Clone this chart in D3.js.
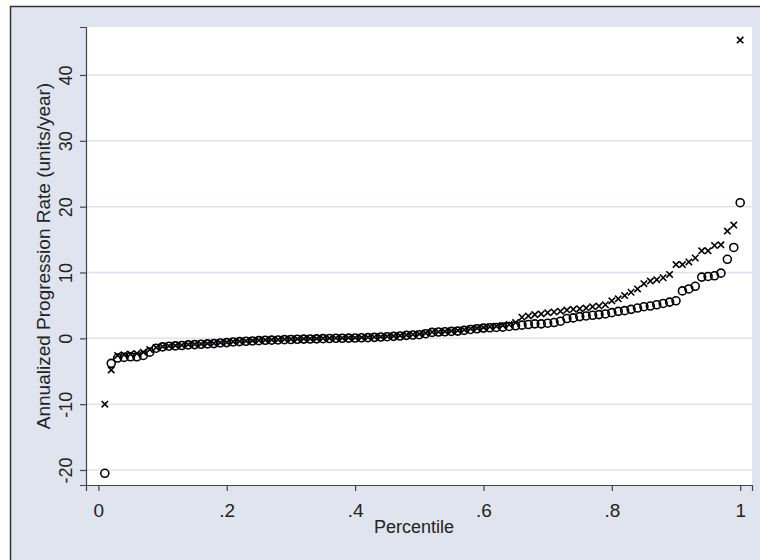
<!DOCTYPE html>
<html>
<head>
<meta charset="utf-8">
<script src="https://cdn.jsdelivr.net/npm/d3@7"></script>
<style>
    body { margin: 0; background: #ffffff; }
    text { font-family: "Liberation Sans", Arial, sans-serif; fill: #222222; }
</style>
</head>
<body>
<svg id="chart" width="760" height="560"></svg>
<script>
/**
 * Quantile plot: annualized progression rate by percentile, two series
 */

// percentiles 0.01 .. 1.00
let percentiles = d3.range(1, 101).map(k => k / 100);

// circle series (o)
let circleValues = [
    -20.5, -3.8, -3.0, -2.9, -2.8, -2.8, -2.6, -2.1, -1.5, -1.3,
    -1.2, -1.15, -1.1, -1.0, -0.95, -0.9, -0.85, -0.8, -0.7, -0.65,
    -0.55, -0.5, -0.45, -0.4, -0.35, -0.3, -0.28, -0.25, -0.2, -0.18,
    -0.15, -0.12, -0.1, -0.08, -0.05, -0.03, 0.0, 0.0, 0.03, 0.05,
    0.08, 0.1, 0.15, 0.2, 0.25, 0.3, 0.35, 0.45, 0.5, 0.55,
    0.7, 0.9, 0.95, 1.0, 1.05, 1.1, 1.2, 1.35, 1.45, 1.55,
    1.6, 1.65, 1.7, 1.8, 1.9, 2.0, 2.1, 2.2, 2.2, 2.3,
    2.4, 2.6, 3.0, 3.1, 3.3, 3.4, 3.5, 3.6, 3.7, 3.9,
    4.1, 4.2, 4.4, 4.6, 4.8, 4.9, 5.1, 5.3, 5.5, 5.7,
    7.2, 7.5, 7.9, 9.3, 9.4, 9.5, 9.9, 12.0, 13.8, 20.6
];

// cross series (x)
let crossValues = [
    -10.0, -4.8, -2.6, -2.5, -2.4, -2.3, -2.1, -1.7, -1.4, -1.25,
    -1.15, -1.1, -1.05, -0.95, -0.9, -0.85, -0.8, -0.75, -0.65, -0.6,
    -0.5, -0.45, -0.4, -0.35, -0.3, -0.25, -0.22, -0.2, -0.15, -0.12,
    -0.1, -0.08, -0.05, -0.03, 0.0, 0.02, 0.05, 0.06, 0.08, 0.1,
    0.13, 0.16, 0.2, 0.25, 0.3, 0.35, 0.42, 0.5, 0.58, 0.65,
    0.8, 0.95, 1.0, 1.05, 1.12, 1.2, 1.3, 1.45, 1.55, 1.65,
    1.75, 1.85, 1.95, 2.1, 2.4, 3.2, 3.4, 3.6, 3.7, 3.9,
    4.0, 4.1, 4.3, 4.4, 4.5, 4.6, 4.8, 4.9, 5.1, 5.7,
    6.0, 6.5, 7.0, 7.5, 8.3, 8.7, 8.9, 9.2, 9.7, 11.2,
    11.2, 11.6, 12.2, 13.3, 13.3, 14.1, 14.2, 16.3, 17.2, 45.3
];

let xTicks = [0, 0.2, 0.4, 0.6, 0.8, 1];
let xTickLabels = ["0", ".2", ".4", ".6", ".8", "1"];
let yTicks = [-20, -10, 0, 10, 20, 30, 40];
let yTickLabels = ["-20", "-10", "0", "10", "20", "30", "40"];

/**
 * Plot region inside the svg
 * @type {{top: number, left: number, bottom: number, right: number}}
 */
let plot = {
    top: 27,
    left: 86,
    bottom: 485,
    right: 752
};

let svg = d3.select("#chart");

// graph region with its frame
svg.append("rect")
    .attr("x", 0)
    .attr("y", 0)
    .attr("width", 760)
    .attr("height", 560)
    .attr("fill", "#ffffff");

svg.append("rect")
    .attr("x", 10.5)
    .attr("y", 6.5)
    .attr("width", 780)
    .attr("height", 580)
    .attr("fill", "#dfe4ef")
    .attr("stroke", "#333333")
    .attr("stroke-width", 1.5);

svg.append("rect")
    .attr("x", plot.left)
    .attr("y", plot.top)
    .attr("width", plot.right - plot.left)
    .attr("height", plot.bottom - plot.top)
    .attr("fill", "#ffffff");

let x = d3.scaleLinear()
    .domain([-0.0193, 1.0184])
    .range([plot.left, plot.right]);

let y = d3.scaleLinear()
    .domain([-22.28, 47.29])
    .range([plot.bottom, plot.top]);

// gridlines
svg.append("g")
    .selectAll("line")
    .data(yTicks)
    .enter()
    .append("line")
    .attr("x1", plot.left)
    .attr("x2", plot.right)
    .attr("y1", d => y(d))
    .attr("y2", d => y(d))
    .attr("stroke", "#dde3ee")
    .attr("stroke-width", 1.5);

// y axis
let yAxis = svg.append("g")
    .attr("transform", "translate(" + plot.left + ",0)")
    .call(d3.axisLeft(y).tickValues(yTicks).tickSize(6).tickPadding(0)
        .tickFormat((d, i) => yTickLabels[i]));

yAxis.select(".domain").attr("stroke", "#444444").attr("stroke-width", 1.2);
yAxis.selectAll(".tick line").attr("stroke", "#444444").attr("stroke-width", 1.2);
yAxis.selectAll(".tick text")
    .attr("transform", "rotate(-90)")
    .attr("x", 0)
    .attr("y", -14)
    .attr("dy", 0)
    .attr("text-anchor", "middle")
    .style("font-size", "18px")
    .style("font-family", "Liberation Sans, Arial, sans-serif")
    .attr("fill", "#222222");

// x axis
let xAxis = svg.append("g")
    .attr("transform", "translate(0," + plot.bottom + ")")
    .call(d3.axisBottom(x).tickValues(xTicks).tickSize(6).tickPadding(0)
        .tickFormat((d, i) => xTickLabels[i]));

xAxis.select(".domain").attr("stroke", "#444444").attr("stroke-width", 1.2);
xAxis.selectAll(".tick line").attr("stroke", "#444444").attr("stroke-width", 1.2);
xAxis.selectAll(".tick text")
    .attr("y", 32)
    .attr("dy", 0)
    .style("font-size", "19px")
    .style("font-family", "Liberation Sans, Arial, sans-serif")
    .attr("fill", "#222222");

// axis titles
svg.append("text")
    .attr("x", 414)
    .attr("y", 533)
    .attr("text-anchor", "middle")
    .style("font-size", "18px")
    .text("Percentile");

svg.append("text")
    .attr("transform", "translate(50," + ((plot.top + plot.bottom) / 2) + ") rotate(-90)")
    .attr("text-anchor", "middle")
    .style("font-size", "19px")
    .text("Annualized Progression Rate (units/year)");

// circle markers
svg.append("g")
    .selectAll("circle")
    .data(circleValues)
    .enter()
    .append("circle")
    .attr("cx", (d, i) => x(percentiles[i]))
    .attr("cy", d => y(d))
    .attr("r", 4)
    .attr("fill", "none")
    .attr("stroke", "#000000")
    .attr("stroke-width", 1.6);

// cross markers
let s = 3.2;
svg.append("g")
    .selectAll("path")
    .data(crossValues)
    .enter()
    .append("path")
    .attr("transform", (d, i) => "translate(" + x(percentiles[i]) + "," + y(d) + ")")
    .attr("d", "M" + (-s) + "," + (-s) + "L" + s + "," + s + "M" + (-s) + "," + s + "L" + s + "," + (-s))
    .attr("fill", "none")
    .attr("stroke", "#000000")
    .attr("stroke-width", 1.6);
</script>
</body>
</html>
